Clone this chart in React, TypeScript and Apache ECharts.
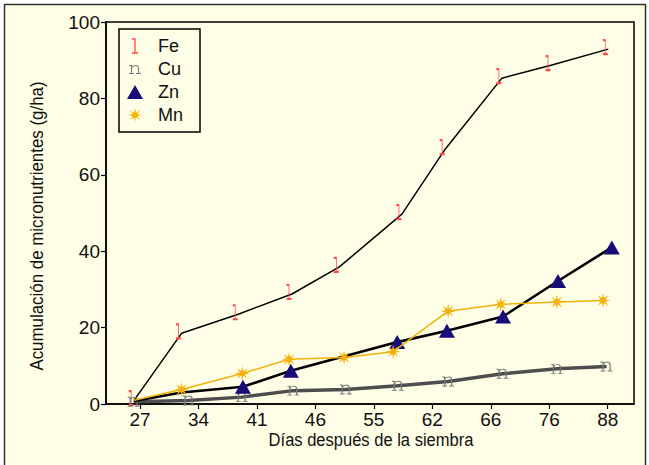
import React, { useEffect, useRef } from "react";
import * as echarts from "echarts";

// Category tick labels (sampling days)
const dayLabels = ["27", "34", "41", "46", "55", "62", "66", "76", "88"];

// x positions are expressed in tick-index units (0 = "27", 8 = "88")
const feX = [-0.1, 0.71, 1.68, 2.6, 3.41, 4.48, 5.22, 6.19, 7.03, 8.01];
const feY = [1.0, 18.5, 23.5, 28.8, 35.9, 49.7, 66.7, 85.3, 88.7, 92.9];

const cuX = [-0.11, 0.83, 1.74, 2.62, 3.52, 4.41, 5.27, 6.2, 7.13, 7.98];
const cuY = [0.6, 0.9, 1.8, 3.5, 3.8, 4.8, 5.9, 7.9, 9.2, 9.8];

const znX = [-0.1, 0.71, 1.76, 2.58, 4.4, 5.25, 6.21, 7.15, 8.07];
const znY = [0.8, 3.0, 4.5, 8.7, 16.2, 19.2, 22.9, 32.2, 41.0];
const znNoMarker = [0, 1];

const mnX = [-0.1, 0.71, 1.75, 2.55, 3.49, 4.33, 5.27, 6.17, 7.13, 7.92];
const mnY = [1.0, 3.8, 8.0, 11.7, 12.2, 13.7, 24.3, 26.1, 26.7, 27.1];
const mnNoMarker = [0];

const yTicks = { min: 0, max: 100, interval: 20 };

const FONT = "'Liberation Sans', Arial, sans-serif";

const FE_SYMBOL = "path://M0 0 H3 V14 M0 14 H6";
const FE_LEGEND = "path://M-3 0 M9 0 M0 0 H3 V14 M0 14 H6";
const CU_SYMBOL =
  "path://M0 1 H2.5 V9 M0 9 H5 M2.5 3.2 C4 0.4 9.3 0 9.5 3.5 V9 M7 9 H12";
const CU_LEGEND =
  "path://M-1 -2.5 M13 11.5 M0 1 H2.5 V9 M0 9 H5 M2.5 3.2 C4 0.4 9.3 0 9.5 3.5 V9 M7 9 H12";
const MN_SYMBOL =
  "path://M10 0 L11.34 6.77 L17.07 2.93 L13.23 8.66 L20 10 L13.23 11.34 L17.07 17.07 L11.34 13.23 L10 20 L8.66 13.23 L2.93 17.07 L6.77 11.34 L0 10 L6.77 8.66 L2.93 2.93 L8.66 6.77 Z";

function pairs(xs: number[], ys: number[], noMarker: number[] = []) {
  return xs.map((x, i) =>
    noMarker.indexOf(i) >= 0 ? { value: [x, ys[i]], symbol: "none" } : { value: [x, ys[i]] }
  );
}

export default function App() {
  const ref = useRef<HTMLDivElement>(null);

  useEffect(() => {
    if (!ref.current) return;
    const chart = echarts.init(ref.current, null, { renderer: "svg" });
    const option: any = {
      animation: false,
      backgroundColor: "#ffffff",
      graphic: [
        {
          type: "rect",
          z: -10,
          silent: true,
          shape: { x: 4.5, y: 4.5, width: 641, height: 475 },
          style: { fill: "#FEFEE6", stroke: "#333333", lineWidth: 1.5 },
        },
        {
          type: "text",
          x: 37,
          y: 226,
          rotation: Math.PI / 2,
          scaleX: 0.89,
          style: {
            text: "Acumulación de micronutrientes (g/ha)",
            fontSize: 19,
            fontFamily: FONT,
            fill: "#111",
            align: "center",
            verticalAlign: "middle",
          },
        },
        {
          type: "text",
          x: 371,
          y: 440,
          scaleX: 0.87,
          style: {
            text: "Días después de la siembra",
            fontSize: 19,
            fontFamily: FONT,
            fill: "#111",
            align: "center",
            verticalAlign: "middle",
          },
        },
      ],
      grid: {
        left: 106,
        right: 15,
        top: 22,
        bottom: 61,
        show: true,
        borderColor: "#000",
        borderWidth: 1.5,
        backgroundColor: "transparent",
      },
      legend: {
        orient: "vertical",
        left: 119,
        top: 29,
        padding: [8, 17, 8, 8],
        itemWidth: 16,
        itemHeight: 14,
        itemGap: 5,
        borderColor: "#000",
        borderWidth: 1.5,
        backgroundColor: "transparent",
        textStyle: { fontSize: 18, fontFamily: FONT, color: "#111", padding: [0, 0, 0, 10] },
        data: [
          {
            name: "Fe",
            icon: FE_LEGEND,
            itemStyle: { color: "transparent", borderColor: "#ff4a4a", borderWidth: 1.3 },
          },
          {
            name: "Cu",
            icon: CU_LEGEND,
            itemStyle: { color: "transparent", borderColor: "#7a7a7a", borderWidth: 1.1 },
          },
          { name: "Zn", icon: "triangle", itemStyle: { color: "#170c7a", borderWidth: 0 } },
          { name: "Mn", icon: MN_SYMBOL, itemStyle: { color: "#f2b20a", borderWidth: 0 } },
        ],
      },
      xAxis: {
        type: "value",
        min: -0.582,
        max: 8.45,
        splitLine: { show: false },
        axisLine: { show: true, onZero: false, lineStyle: { color: "#000", width: 1.5 } },
        axisTick: {
          show: true,
          length: 5,
          lineStyle: { color: "#000", width: 1.2 },
          customValues: dayLabels.map((_, i) => i),
        },
        axisLabel: {
          customValues: dayLabels.map((_, i) => i),
          formatter: (v: number) => dayLabels[Math.round(v)] ?? "",
          fontSize: 19,
          fontFamily: FONT,
          color: "#111",
          margin: 6,
        },
      },
      yAxis: {
        type: "value",
        min: yTicks.min,
        max: yTicks.max,
        interval: yTicks.interval,
        splitLine: { show: false },
        axisLine: { show: true, onZero: false, lineStyle: { color: "#000", width: 1.5 } },
        axisTick: { show: true, length: 5, lineStyle: { color: "#000", width: 1.2 } },
        axisLabel: { fontSize: 19, fontFamily: FONT, color: "#111", margin: 6 },
      },
      series: [
        {
          name: "Fe",
          type: "line",
          data: pairs(feX, feY),
          symbol: FE_SYMBOL,
          symbolSize: [5, 14],
          symbolOffset: [-3, -2],
          lineStyle: { color: "#000", width: 1.5 },
          itemStyle: { color: "transparent", borderColor: "#ff4a4a", borderWidth: 1.3 },
          z: 2,
        },
        {
          name: "Cu",
          type: "line",
          data: pairs(cuX, cuY),
          symbol: CU_SYMBOL,
          symbolSize: [12, 9],
          lineStyle: { color: "#4d4d4d", width: 3.5 },
          itemStyle: { color: "transparent", borderColor: "#7a7a7a", borderWidth: 1.1 },
          z: 3,
        },
        {
          name: "Zn",
          type: "line",
          data: pairs(znX, znY, znNoMarker),
          symbol: "triangle",
          symbolSize: [16, 14],
          lineStyle: { color: "#000", width: 2.6 },
          itemStyle: { color: "#170c7a", borderWidth: 0 },
          z: 4,
        },
        {
          name: "Mn",
          type: "line",
          data: pairs(mnX, mnY, mnNoMarker),
          symbol: MN_SYMBOL,
          symbolSize: 15,
          lineStyle: { color: "#f2b20a", width: 1.5 },
          itemStyle: { color: "#f2b20a", borderWidth: 0 },
          z: 5,
        },
      ],
    };
    chart.setOption(option);
    return () => chart.dispose();
  }, []);

  return (
    <div
      ref={ref}
      style={{ position: "absolute", left: 0, top: 0, width: 649, height: 465 }}
    />
  );
}
